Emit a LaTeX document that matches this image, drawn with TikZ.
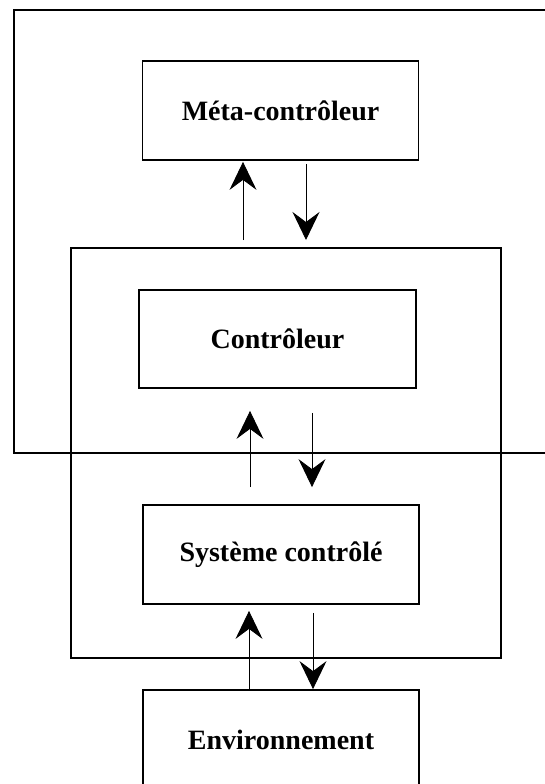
\documentclass[tikz,border=0pt]{standalone}
\usepackage{fontspec}
\setmainfont{Liberation Serif}
\usetikzlibrary{arrows.meta}
\tikzset{
  boite/.style={draw,line width=1.8pt,minimum width=276pt,minimum height=99pt,inner sep=0pt,font=\bfseries\fontsize{28}{30}\selectfont},
  cadre/.style={draw,line width=1.8pt,inner sep=0pt,anchor=north west},
  fleche/.style={line width=0.9pt,-{Stealth[length=28pt,width=27pt,inset=10pt]}}
}

\begin{document}
\begin{tikzpicture}[x=1pt,y=-1pt]
\useasboundingbox (0,0) rectangle (545,784);
\clip (0,0) rectangle (545,784);
% niveaux
\node[cadre,minimum width=600pt,minimum height=443pt] (meta) at (13,9) {};
\node[cadre,minimum width=430pt,minimum height=410pt] (zone) at (70,247) {};
% boites
\node[boite] (metactl) at (280.5,110.5) {Méta-contrôleur};
\node[boite,minimum width=277pt,minimum height=98pt] (ctrl) at (277.5,339) {Contrôleur};
\node[boite] (sys) at (281,554.5) {Système contrôlé};
\node[boite,minimum height=100pt] (env) at (281,740) {Environnement};
% colonnes des fleches
\coordinate (m1) at (243,0); \coordinate (d1) at (306,0);
\coordinate (m2) at (250,0); \coordinate (d2) at (312,0);
\coordinate (m3) at (249,0); \coordinate (d3) at (313,0);
\draw[fleche,shorten <=7pt,shorten >=1pt] (zone.north -| m1) -- (metactl.south -| m1);
\draw[fleche,shorten <=3pt,shorten >=7pt] (metactl.south -| d1) -- (zone.north -| d1);
\draw[fleche,shorten <=17pt,shorten >=22pt] (sys.north -| m2) -- (ctrl.south -| m2);
\draw[fleche,shorten <=24pt,shorten >=17pt] (ctrl.south -| d2) -- (sys.north -| d2);
\draw[fleche,shorten >=6pt] (env.north -| m3) -- (sys.south -| m3);
\draw[fleche,shorten <=8pt] (sys.south -| d3) -- (env.north -| d3);
\end{tikzpicture}
\end{document}
